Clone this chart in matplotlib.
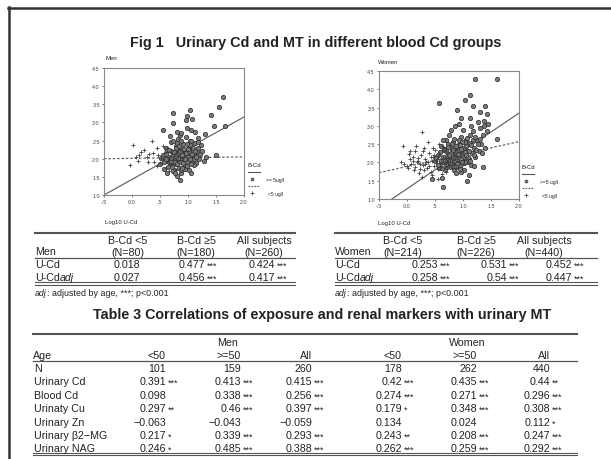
import matplotlib
matplotlib.use("Agg")
import matplotlib.pyplot as plt

plt.rcParams['font.family'] = ['Liberation Sans', 'DejaVu Sans']

# ---------------- data ----------------
fig_title = "Fig 1   Urinary Cd and MT in different blood Cd groups"
tab3_title = "Table 3 Correlations of exposure and renal markers with urinary MT"

x_ticks = [-0.5, 0.0, 0.5, 1.0, 1.5, 2.0]
x_ticklabels = ["-.5", "0.0", ".5", "1.0", "1.5", "2.0"]
y_ticks = [1.0, 1.5, 2.0, 2.5, 3.0, 3.5, 4.0, 4.5]
y_ticklabels = ["1.0", "1.5", "2.0", "2.5", "3.0", "3.5", "4.0", "4.5"]

men_low_x = [-0.04, 0.02, 0.08, 0.16, 0.10, 0.22, 0.26, 0.30, 0.35, 0.40, 0.44, 0.47, 0.50, 0.52, 0.55, 0.58,
             0.60, 0.62, 0.65, 0.68, 0.70, 0.72, 0.74, 0.76, 0.78, 0.80, 0.83, 0.86, 0.90, 0.45, 0.38, 0.55,
             0.66, 0.28, 0.12]
men_low_y = [1.83, 2.38, 2.04, 2.18, 1.95, 2.25, 2.05, 2.12, 2.50, 1.92, 2.29, 2.10, 1.88, 2.02, 1.98, 2.15,
             1.75, 2.30, 1.90, 2.05, 2.20, 1.85, 2.00, 2.12, 1.70, 2.08, 1.95, 2.25, 2.02, 1.80, 2.15, 2.35,
             1.65, 1.90, 2.10]
men_high_x = [1.63, 1.55, 1.41, 1.47, 1.66, 1.04, 0.74, 0.74, 0.98, 0.96, 1.07, 0.56, 0.81, 0.86, 1.33, 1.50,
              1.24, 1.04, 1.13, 1.30, 1.18, 0.85, 0.62, 0.80,
              0.50, 0.55, 0.58, 0.60, 0.63, 0.65, 0.67, 0.69, 0.70, 0.72, 0.73, 0.75, 0.76, 0.78, 0.79, 0.80,
              0.82, 0.83, 0.84, 0.86, 0.87, 0.88, 0.90, 0.91, 0.92, 0.94, 0.95, 0.96, 0.98, 1.00, 1.01, 1.02,
              1.04, 1.05, 1.07, 1.08, 1.10, 1.12, 1.14, 1.16, 1.18, 1.20, 1.22, 1.25, 1.28, 0.68, 0.74, 0.88,
              0.99, 1.06, 0.62, 0.71, 0.85, 0.93, 0.77, 0.95, 1.03, 0.81, 0.66, 1.11,
              0.52, 0.57, 0.61, 0.64, 0.66, 0.69, 0.71, 0.73, 0.75, 0.77, 0.79, 0.81, 0.83, 0.85, 0.87, 0.89,
              0.91, 0.93, 0.95, 0.97, 0.99, 1.01, 1.03, 1.05, 1.07, 1.09, 1.11, 1.13, 1.15, 1.17, 0.70, 0.76,
              0.84, 0.90, 0.98, 1.06, 0.60, 0.88, 1.00, 0.78]
men_high_y = [3.71, 3.43, 3.21, 2.91, 2.91, 3.35, 3.26, 2.98, 3.19, 3.07, 3.10, 2.80, 2.75, 2.64, 2.05, 2.10,
              2.38, 2.48, 2.73, 2.68, 2.57, 1.41, 1.62, 1.53,
              1.85, 2.10, 1.72, 2.30, 1.95, 2.05, 1.80, 2.20, 2.45, 1.90, 2.08, 1.68, 2.00, 2.35, 1.85, 2.15,
              1.95, 2.55, 1.75, 2.05, 2.28, 1.60, 1.98, 2.40, 2.12, 1.82, 2.22, 2.60, 1.92, 2.05, 2.35, 1.70,
              2.15, 2.50, 1.95, 2.25, 2.08, 2.42, 1.88, 2.18, 2.30, 2.00, 2.12, 2.22, 1.95, 2.62, 2.50, 2.70,
              2.85, 2.78, 2.25, 1.78, 1.90, 2.00, 2.18, 1.72, 2.00, 2.42, 1.90, 1.82,
              2.02, 1.90, 2.12, 1.78, 2.25, 1.95, 2.08, 1.65, 2.18, 1.92, 2.30, 1.85, 2.02, 2.22, 1.70, 2.10,
              1.88, 2.28, 2.00, 2.15, 1.80, 2.20, 2.38, 1.85, 2.12, 2.30, 1.98, 2.20, 2.05, 2.45, 2.02, 1.60,
              2.35, 1.75, 2.40, 1.62, 1.98, 2.48, 2.28, 2.08]

women_low_x = [-0.10, -0.07, 0.04, 0.14, 0.23, 0.32, 0.26, 0.00, 0.05, 0.08, 0.10, 0.12, 0.15, 0.18, 0.20, 0.22,
               0.25, 0.28, 0.30, 0.33, 0.35, 0.37, 0.40, 0.42, 0.44, 0.46, 0.48, 0.50, 0.52, 0.54, 0.56, 0.58,
               0.60, 0.62, 0.64, 0.66, 0.68, 0.70, 0.72, 0.74, 0.76, 0.78, 0.80, 0.82, 0.85, 0.88, 0.90, 0.93,
               0.96, 1.00, 0.38, 0.45, 0.58, 0.16, 0.02, -0.05, 0.27, 0.55, 0.70, 0.86,
               0.20, 0.24, 0.29, 0.34, 0.39, 0.43, 0.47, 0.51, 0.57, 0.61, 0.65, 0.69, 0.73, 0.77, 0.81, 0.06,
               0.11, 0.31, 0.49, 0.63]
women_low_y = [2.02, 2.44, 2.23, 1.87, 1.82, 1.96, 2.84, 1.90, 2.10, 1.95, 2.15, 1.80, 2.30, 2.00, 2.05, 1.70,
               2.20, 1.92, 2.40, 2.10, 1.85, 2.00, 2.25, 1.75, 2.05, 2.15, 1.90, 2.35, 1.98, 2.10, 1.82, 2.20,
               2.02, 1.68, 2.12, 1.95, 2.30, 2.05, 1.88, 2.15, 2.00, 2.45, 1.92, 2.08, 2.20, 1.85, 2.10, 2.00,
               2.25, 1.95, 2.55, 1.65, 2.50, 2.45, 1.85, 1.95, 1.60, 1.55, 1.75, 2.35,
               2.12, 1.95, 2.30, 2.02, 1.90, 2.15, 2.40, 2.05, 2.25, 1.88, 2.35, 1.98, 2.28, 2.10, 2.00, 2.30,
               2.05, 1.78, 2.20, 2.45]
women_high_x = [1.21, 1.61, 1.13, 1.04, 0.57, 1.18, 1.39, 1.30, 0.89, 0.96, 1.42, 1.13, 1.38, 1.60, 0.68, 0.63,
                0.44, 1.07, 1.36, 0.89, 0.65,
                0.50, 0.55, 0.58, 0.60, 0.62, 0.65, 0.67, 0.69, 0.70, 0.72, 0.73, 0.75, 0.76, 0.78, 0.79, 0.80,
                0.82, 0.83, 0.84, 0.86, 0.87, 0.88, 0.90, 0.91, 0.92, 0.94, 0.95, 0.96, 0.98, 1.00, 1.01, 1.02,
                1.04, 1.05, 1.07, 1.08, 1.10, 1.12, 1.14, 1.16, 1.18, 1.20, 1.22, 1.25, 1.28, 1.30, 1.32, 1.35,
                1.38, 1.40, 1.42, 1.45, 1.26, 1.15, 1.00, 0.92, 0.85, 0.78, 1.20, 0.97, 1.10, 0.74, 0.84, 1.03,
                0.66, 0.93, 1.06, 0.81,
                0.52, 0.56, 0.59, 0.61, 0.63, 0.66, 0.68, 0.71, 0.72, 0.74, 0.77, 0.79, 0.81, 0.83, 0.85, 0.86,
                0.88, 0.89, 0.91, 0.93, 0.94, 0.96, 0.97, 0.99, 1.01, 1.03, 1.04, 1.06, 1.08, 1.09, 1.11, 1.13,
                1.15, 1.17, 1.19, 1.21, 1.24, 1.27, 1.31, 1.34, 0.75, 0.82, 0.90, 0.98, 1.05, 1.12, 0.64, 0.70,
                0.87, 0.95]
women_high_y = [4.28, 4.28, 3.84, 3.72, 3.62, 3.55, 3.55, 3.37, 3.44, 3.21, 3.32, 3.21, 3.13, 2.64, 2.37, 1.58,
                1.54, 1.49, 1.87, 2.18, 1.32,
                2.05, 2.20, 1.85, 2.45, 2.00, 2.15, 1.78, 2.30, 2.60, 1.95, 2.10, 2.75, 2.02, 2.40, 1.88, 2.20,
                2.05, 2.55, 1.80, 2.12, 2.35, 1.70, 2.00, 2.48, 2.18, 1.90, 2.28, 2.70, 2.02, 2.15, 2.40, 1.78,
                2.22, 2.60, 2.00, 2.32, 2.10, 2.52, 1.92, 2.25, 2.85, 2.40, 2.15, 2.60, 2.30, 2.95, 2.50, 2.75,
                3.00, 2.40, 2.85, 3.05, 3.10, 3.00, 2.90, 3.05, 3.00, 2.90, 1.90, 1.75, 1.65, 2.50, 2.65, 2.55,
                2.38, 2.35, 2.05, 1.95,
                2.12, 1.92, 2.28, 2.05, 1.85, 2.35, 2.05, 2.18, 1.88, 2.42, 2.08, 2.25, 2.50, 1.90, 2.30, 2.05,
                2.45, 1.95, 2.22, 2.62, 1.82, 2.10, 2.38, 2.55, 1.98, 2.28, 2.02, 2.45, 2.68, 2.15, 2.30, 2.05,
                2.48, 2.60, 2.20, 2.70, 2.35, 2.50, 2.65, 2.25, 2.20, 2.35, 2.10, 2.00, 2.20, 2.75, 2.60, 1.95,
                1.88, 2.48]

# regression lines (endpoints)
men_fit_high_x = [-0.5, 2.0]
men_fit_high_y = [1.0, 3.15]
men_fit_low_x = [-0.5, 2.0]
men_fit_low_y = [2.0, 2.05]
women_fit_high_x = [-0.27, 2.0]
women_fit_high_y = [1.0, 3.35]
women_fit_low_x = [-0.5, 2.0]
women_fit_low_y = [1.72, 2.57]

# small tables
sub_headers = ["B-Cd <5", "B-Cd \u22655", "All subjects"]
men_n = ["(N=80)", "(N=180)", "(N=260)"]
women_n = ["(N=214)", "(N=226)", "(N=440)"]
men_ucd = ["0.018", "0.477", "0.424"]
men_ucd_star = ["", "***", "***"]
men_ucdadj = ["0.027", "0.456", "0.417"]
men_ucdadj_star = ["", "***", "***"]
women_ucd = ["0.253", "0.531", "0.452"]
women_ucd_star = ["***", "***", "***"]
women_ucdadj = ["0.258", "0.54", "0.447"]
women_ucdadj_star = ["***", "***", "***"]

# table 3
t3_ages = ["<50", ">=50", "All", "<50", ">=50", "All"]
t3_rows = ["N", "Urinary Cd", "Blood Cd", "Urinaty Cu", "Urinary Zn", "Urinary \u03b22\u2212MG", "Urinary NAG"]
t3_vals = [
    ["101", "159", "260", "178", "262", "440"],
    ["0.391", "0.413", "0.415", "0.42", "0.435", "0.44"],
    ["0.098", "0.338", "0.256", "0.274", "0.271", "0.296"],
    ["0.297", "0.46", "0.397", "0.179", "0.348", "0.308"],
    ["\u22120.063", "\u22120.043", "\u22120.059", "0.134", "0.024", "0.112"],
    ["0.217", "0.339", "0.293", "0.243", "0.208", "0.247"],
    ["0.246", "0.485", "0.388", "0.262", "0.259", "0.292"],
]
t3_stars = [
    ["", "", "", "", "", ""],
    ["***", "***", "***", "***", "***", "**"],
    ["", "***", "***", "***", "***", "***"],
    ["**", "***", "***", "*", "***", "***"],
    ["", "", "", "", "", "*"],
    ["*", "***", "***", "**", "***", "***"],
    ["*", "***", "***", "***", "***", "***"],
]

# ---------------- drawing ----------------
W, H = 611, 460
fig = plt.figure(figsize=(W / 100, H / 100), dpi=100)
fig.patch.set_facecolor('white')

ov = fig.add_axes([0, 0, 1, 1])
ov.set_xlim(0, W)
ov.set_ylim(H, 0)
ov.axis('off')

TXT = '#222222'
LINE = '#555555'

# frame
ov.plot([8, W], [8.5, 8.5], color='#333333', lw=1.8)
ov.plot([8.5, 8.5], [8, H], color='#333333', lw=1.8)

ov.text(316, 43, fig_title, ha='center', va='center', fontsize=10.4, fontweight='bold', color=TXT)


def px_axes(l, t, r, b):
    return fig.add_axes([l / W, 1 - b / H, (r - l) / W, (b - t) / H])


def scatter_panel(ax, lx, ly, hx, hy, fhx, fhy, flx, fly):
    ax.scatter(hx, hy, s=10, marker='o', facecolor='#7a7a7a', edgecolor='#2a2a2a', linewidths=0.5, zorder=3)
    ax.scatter(lx, ly, s=6, marker='+', color='#444444', linewidths=0.6, zorder=3)
    ax.plot(fhx, fhy, color='#666666', lw=0.9, zorder=2)
    ax.plot(flx, fly, color='#666666', lw=0.9, ls=(0, (2, 1.5)), zorder=2)
    ax.set_xlim(-0.5, 2.0)
    ax.set_ylim(1.0, 4.5)
    ax.set_xticks(x_ticks)
    ax.set_xticklabels(x_ticklabels)
    ax.set_yticks(y_ticks)
    ax.set_yticklabels(y_ticklabels)
    ax.tick_params(labelsize=3.9, length=1.5, width=0.5, colors='#444444', pad=1.5)
    for s in ax.spines.values():
        s.set_color('#888888')
        s.set_linewidth(0.8)


axm = px_axes(104, 69, 244, 196)
scatter_panel(axm, men_low_x, men_low_y, men_high_x, men_high_y,
              men_fit_high_x, men_fit_high_y, men_fit_low_x, men_fit_low_y)
axw = px_axes(379, 72, 519, 200)
scatter_panel(axw, women_low_x, women_low_y, women_high_x, women_high_y,
              women_fit_high_x, women_fit_high_y, women_fit_low_x, women_fit_low_y)

small = 4.3
ov.text(105, 58, "Men", fontsize=small, color=TXT, va='center')
ov.text(105, 223, "Log10 U-Cd", fontsize=small, color=TXT, va='center')
ov.text(378, 62, "Women", fontsize=small, color=TXT, va='center')
ov.text(378, 224, "Log10 U-Cd", fontsize=small, color=TXT, va='center')


def legend(x0, y0, lab_hi, lab_lo):
    ov.text(x0, y0, "B-Cd", fontsize=small, color=TXT, va='center')
    ov.plot([x0, x0 + 12], [y0 + 7, y0 + 7], color='#555555', lw=0.8)
    ov.plot([x0 + 4], [y0 + 14], marker='o', ms=2.2, mfc='#7a7a7a', mec='#2a2a2a', mew=0.4)
    ov.text(x0 + 18, y0 + 15, lab_hi, fontsize=3.6, color=TXT, va='center')
    ov.plot([x0, x0 + 12], [y0 + 21, y0 + 21], color='#555555', lw=0.8, ls=(0, (1.5, 1.2)))
    ov.plot([x0 + 4], [y0 + 28], marker='+', ms=2.5, color='#333333', mew=0.5)
    ov.text(x0 + 20, y0 + 29, lab_lo, fontsize=3.6, color=TXT, va='center')


legend(248, 166, ">= 5ug/l", "<5 ug/l")
legend(522, 168, ">=5 ug/l", "<5 ug/l")

# ---- small tables ----
fs = 7.7
sfs = 6.5


def small_table(x0, x1, group, ncol, centers, num_right, r1, s1, r2, s2):
    ov.plot([x0, x1], [233.5, 233.5], color=LINE, lw=1.5)
    for c, h, n in zip(centers, sub_headers, ncol):
        ov.text(c, 241, h, ha='center', va='center', fontsize=fs, color=TXT)
        ov.text(c, 252.5, n, ha='center', va='center', fontsize=fs, color=TXT)
    ov.text(x0, 252.5, group, ha='left', va='center', fontsize=fs, color=TXT)
    ov.plot([x0, x1], [258.5, 258.5], color=LINE, lw=0.9)
    ov.text(x0, 265, "U-Cd", ha='left', va='center', fontsize=fs, color=TXT)
    t = ov.text(x0, 278, "U-Cd", ha='left', va='center', fontsize=fs, color=TXT)
    ov.annotate("adj", xycoords=t, xy=(1, 0.5), va='center', ha='left', fontsize=fs, style='italic', color=TXT)
    for xr, v, s in zip(num_right, r1, s1):
        ov.text(xr, 265, v, ha='right', va='center', fontsize=fs, color=TXT)
        ov.text(xr + 2, 266, s, ha='left', va='center', fontsize=sfs, color=TXT)
    for xr, v, s in zip(num_right, r2, s2):
        ov.text(xr, 278, v, ha='right', va='center', fontsize=fs, color=TXT)
        ov.text(xr + 2, 279, s, ha='left', va='center', fontsize=sfs, color=TXT)
    ov.plot([x0, x1], [283.3, 283.3], color=LINE, lw=0.8)
    ov.plot([x0, x1], [285.6, 285.6], color=LINE, lw=0.8)
    t2 = ov.text(x0, 293.5, "adj", ha='left', va='center', fontsize=6.4, style='italic', color=TXT)
    ov.annotate(": adjusted by age, ***; p<0.001", xycoords=t2, xy=(1, 0.5), va='center', ha='left',
                fontsize=6.4, color=TXT)


small_table(35, 295, "Men", men_n, [128, 196, 264], [140, 205, 275],
            men_ucd, men_ucd_star, men_ucdadj, men_ucdadj_star)
small_table(335, 597, "Women", women_n, [403, 476, 544], [438, 507, 572],
            women_ucd, women_ucd_star, women_ucdadj, women_ucdadj_star)

# ---- table 3 ----
ov.text(322, 315, tab3_title, ha='center', va='center', fontsize=10.3, fontweight='bold', color=TXT)
tx0, tx1 = 33, 577
ov.plot([tx0, tx1], [335, 335], color=LINE, lw=1.5)
ov.text(228, 343.5, "Men", ha='center', va='center', fontsize=fs, color=TXT)
ov.text(467, 343.5, "Women", ha='center', va='center', fontsize=fs, color=TXT)
col_right = [166, 241, 312, 402, 477, 550]
ov.text(tx0, 356, "Age", ha='left', va='center', fontsize=fs, color=TXT)
for xr, a in zip(col_right, t3_ages):
    ov.text(xr, 356, a, ha='right', va='center', fontsize=fs, color=TXT)
ov.plot([tx0, tx1], [362, 362], color=LINE, lw=0.9)
row_y = [369, 382.5, 396, 409.5, 423, 436, 449]
for yy, name, vals, stars in zip(row_y, t3_rows, t3_vals, t3_stars):
    ov.text(tx0 + 1, yy, name, ha='left', va='center', fontsize=fs, color=TXT)
    for xr, v, s in zip(col_right, vals, stars):
        ov.text(xr, yy, v, ha='right', va='center', fontsize=fs, color=TXT)
        if s:
            ov.text(xr + 2, yy + 1, s, ha='left', va='center', fontsize=sfs, color=TXT)
ov.plot([tx0, tx1], [454, 454], color=LINE, lw=0.8)
ov.plot([tx0, tx1], [456.3, 456.3], color=LINE, lw=0.8)

fig.savefig("out.png", dpi=100, facecolor='white')
